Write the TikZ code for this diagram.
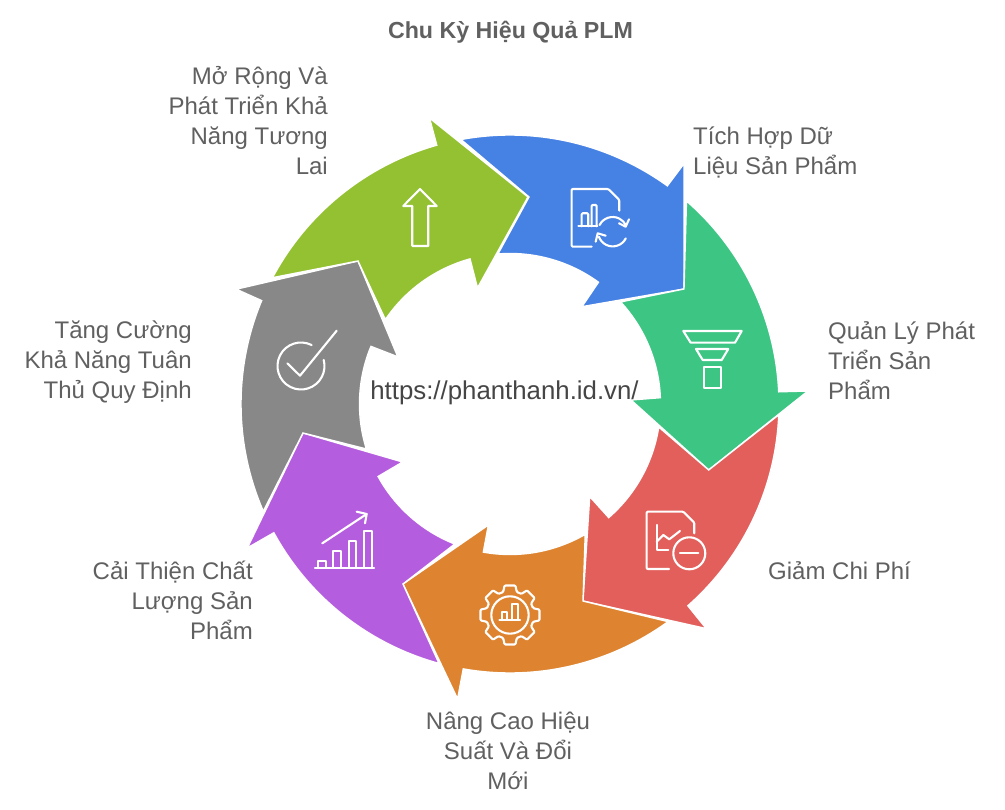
\documentclass[tikz,border=0pt]{standalone}
\usepackage{fontspec}
\setmainfont{Liberation Sans}
\usepackage{tikz}
\tikzset{
	segment/.style={
		draw=white,
		line width=1.4pt,
		line join=miter,
	},
	icon/.style={
		draw=white,
		line width=2.1pt,
		line join=round,
		line cap=round,
	},
	pixels/.style={
		shift={(-510,404)},
		yscale=-1,
	},
	label/.style={
		inner sep=0pt,
		text=labelgray,
		font=\fontsize{24}{30}\selectfont,
	},
}
\definecolor{labelgray}{HTML}{606060}
\definecolor{urlgray}{HTML}{454545}
\definecolor{blueseg}{HTML}{4681E4}
\definecolor{greenseg}{HTML}{3DC584}
\definecolor{redseg}{HTML}{E25F5C}
\definecolor{orangeseg}{HTML}{DE8431}
\definecolor{purpleseg}{HTML}{B55DDF}
\definecolor{grayseg}{HTML}{888888}
\definecolor{oliveseg}{HTML}{94C132}

\begin{document}
\begin{tikzpicture}[x=1pt,y=1pt]
	\useasboundingbox (-510,404) rectangle (495,-406);

	% the seven arrows of the ring
	\path[segment,fill=blueseg] (19,207) -- (100.5:269) arc[start angle=100.5,end angle=54.2,radius=269]
		-- (174.2,240.6) -- (174,115) -- (71.9,97.3) -- (54:150.5) arc[start angle=54,end angle=94.6,radius=150.5] -- cycle;
	\path[segment,fill=greenseg] (174,115) -- (49:269) arc[start angle=49,end angle=2.6,radius=269]
		-- (298,13) -- (198.7,-66) -- (121,4) -- (2.4:150.5) arc[start angle=2.4,end angle=42.7,radius=150.5] -- cycle;
	\path[segment,fill=redseg] (198.7,-66) -- (-2.3:269) arc[start angle=-2.3,end angle=-48.6,radius=269]
		-- (196.3,-224.6) -- (73,-197) -- (79.7,-92.5) -- (-49:150.5) arc[start angle=-49,end angle=-8.8,radius=150.5] -- cycle;
	\path[segment,fill=orangeseg] (73,-197) -- (-54:269) arc[start angle=-54,end angle=-100,radius=269]
		-- (-52.4,-295) -- (-107,-180) -- (-21.6,-121) -- (-100.2:150.5) arc[start angle=-100.2,end angle=-60,radius=150.5] -- cycle;
	\path[segment,fill=purpleseg] (-107,-180) -- (254.7:269) arc[start angle=254.7,end angle=208.6,radius=269]
		-- (-262.7,-144) -- (-207,-29) -- (-107.3,-58) -- (208.8:150.5) arc[start angle=208.8,end angle=248.5,radius=150.5] -- cycle;
	\path[segment,fill=grayseg] (-207,-29) -- (203.5:269) arc[start angle=203.5,end angle=157.4,radius=269]
		-- (-273.8,114.8) -- (-152,143) -- (-112.2,47.2) -- (157.5:150.5) arc[start angle=157.5,end angle=197.4,radius=150.5] -- cycle;
	\path[segment,fill=oliveseg] (-152,143) -- (152:269) arc[start angle=152,end angle=105.8,radius=269]
		-- (-80.5,286) -- (18,207) -- (-32.5,116) -- (105.4:150.5) arc[start angle=105.4,end angle=145.9,radius=150.5] -- cycle;

	\begin{scope}[pixels]
		\node[label,font=\fontsize{23.2}{26}\bfseries,text=labelgray] (title) at (510.5,32) {Chu Kỳ Hiệu Quả PLM};
		\node[label,font=\fontsize{25.8}{30}\selectfont,text=urlgray] (url) at (504.5,392.5) {https://phanthanh.id.vn/};

		\node[label,align=left,anchor=west] (integrate) at (693,152) {Tích Hợp Dữ\\Liệu Sản Phẩm};
		\node[label,align=left,anchor=west] (develop) at (828,361) {Quản Lý Phát\\Triển Sản\\Phẩm};
		\node[label,align=left,anchor=west] (cost) at (768,571) {Giảm Chi Phí};
		\node[label,align=center] (perform) at (508,751) {Nâng Cao Hiệu\\Suất Và Đổi\\Mới};
		\node[label,align=right,anchor=east] (quality) at (253,600) {Cải Thiện Chất\\Lượng Sản\\Phẩm};
		\node[label,align=right,anchor=east] (comply) at (192,362.5) {Tăng Cường\\Khả Năng Tuân\\Thủ Quy Định};
		\node[label,align=right,anchor=east] (expand) at (328,121) {Mở Rộng Và\\Phát Triển Khả\\Năng Tương\\Lai};

		% document with sync arrows
		\draw[icon,rounded corners=1pt] (591.7,246.7) -- (571.7,246.7) -- (571.7,189) -- (608.3,189) -- (619.3,200) -- (619.3,210.7);
		\draw[icon] (578.3,226.3) -- (597.3,226.3);
		\draw[icon,rounded corners=1pt] (581.7,226.3) -- (581.7,213.3) -- (588.3,213.3) -- (588.3,226.3);
		\draw[icon,rounded corners=1pt] (591.7,226.3) -- (591.7,205) -- (596.7,205) -- (596.7,226.3);
		\draw[icon] (612.7,231.7) ++(-153:14.7) arc[start angle=-153,end angle=-25,radius=14.7];
		\draw[icon] (629,219.3) -- (625.7,226.7) -- (619,223.3);
		\draw[icon] (612.7,231.7) ++(27:14.7) arc[start angle=27,end angle=160,radius=14.7];
		\draw[icon] (595.7,241.7) -- (597.7,233.3) -- (605.7,235.7);

		% funnel
		\draw[icon] (683.3,331) -- (741.7,331) -- (735,342.7) -- (690.7,342.7) -- cycle;
		\draw[icon] (696,349) -- (728.3,349) -- (721.7,360) -- (702.7,360) -- cycle;
		\draw[icon] (704,367.3) rectangle (721,388.3);

		% document with falling cost
		\draw[icon,rounded corners=1pt] (669,569) -- (646.7,569) -- (646.7,511.7) -- (683.3,511.7) -- (694.3,522.7) -- (694.3,533.3);
		\draw[icon] (656.7,525) -- (656.7,550) -- (668.3,550);
		\draw[icon] (656.7,541.7) -- (663.3,535) -- (669.3,539.3) -- (680,531);
		\draw[icon] (689.3,553.3) circle[radius=16];
		\draw[icon] (680,553.3) -- (698.3,553.3);

		% gear
		\begin{scope}[shift={(510,615)}]
			\draw[icon,rounded corners=1pt] (-16.5:24) \foreach \a in {0,45,...,315} {
				-- ({\a-16.5}:24) -- ({\a-10.4}:30) -- ({\a+10.4}:30) -- ({\a+16.5}:24)
			} -- cycle;
			\draw[icon] (0,0) circle[radius=18.7];
		\end{scope}
		\draw[icon] (499.3,620) -- (520,620);
		\draw[icon] (502.3,620) -- (502.3,612.3) -- (507.3,612.3) -- (507.3,620);
		\draw[icon] (511.7,620) -- (511.7,604.3) -- (517.7,604.3) -- (517.7,620);

		% bar chart with rising arrow
		\draw[icon] (315,567.7) -- (374,567.7);
		\draw[icon] (318.3,567.7) -- (318.3,560.7) -- (326,560.7) -- (326,567.7);
		\draw[icon] (333.3,567.7) -- (333.3,550.7) -- (341,550.7) -- (341,567.7);
		\draw[icon] (349,567.7) -- (349,540.7) -- (356,540.7) -- (356,567.7);
		\draw[icon] (364,567.7) -- (364,530.7) -- (371.7,530.7) -- (371.7,567.7);
		\draw[icon] (322.3,543.3) -- (366.7,514);
		\draw[icon] (356.7,511.7) -- (366.7,514) -- (365,523.3);

		% check mark
		\draw[icon] (301,366) ++(-63:23.5) arc[start angle=-63,end angle=-375,radius=23.5];
		\draw[icon] (287.3,363.3) -- (300,375.7) -- (336.7,330.7);

		% up arrow
		\draw[icon] (420,189) -- (436.7,206) -- (428.3,206) -- (428.3,246) -- (412.3,246) -- (412.3,206) -- (403.3,206) -- cycle;
	\end{scope}
\end{tikzpicture}
\end{document}
